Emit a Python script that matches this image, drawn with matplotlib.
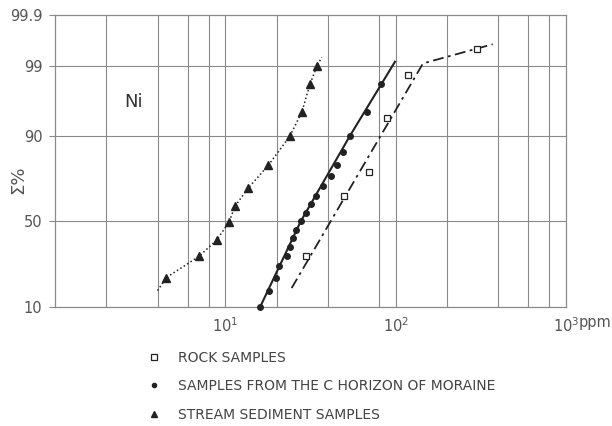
from statistics import NormalDist

import matplotlib
matplotlib.use("Agg")
import matplotlib.pyplot as plt
import numpy as np
from matplotlib.lines import Line2D
from matplotlib.ticker import FixedLocator, FixedFormatter, NullLocator

# Ni cumulative frequency (probability paper), ppm vs cumulative %
stream_ppm = [4.5, 7.0, 8.9, 10.5, 11.4, 13.6, 17.9, 24.0, 28.2, 31.4, 34.5]
stream_pct = [20, 30, 39, 49.5, 59, 69, 80, 90, 95, 98, 99]
stream_line_ppm = [4.0, 4.5, 7.0, 8.9, 10.5, 11.4, 13.6, 17.9, 24.0, 28.2, 31.4, 34.5, 36.8]
stream_line_pct = [15, 20, 30, 39, 49.5, 59, 69, 80, 90, 95, 98, 99, 99.3]

moraine_ppm = [16.0, 18.05, 19.8, 20.75, 22.9, 24.0, 24.9, 25.9, 27.7, 29.65,
               31.7, 33.9, 37.6, 41.6, 45.1, 48.9, 53.9, 67.6, 82.0]
moraine_pct = [10, 15, 20, 25, 30, 35, 40, 45, 50, 55,
               60, 65, 70, 75, 80, 85, 90, 95, 98]
moraine_line_ppm = [16.0, 27.7, 53.9, 99.1]
moraine_line_pct = [10, 50, 90, 99.16]

rock_ppm = [29.8, 49.7, 70.0, 89.3, 117.6, 298.6]
rock_pct = [30.4, 64.7, 76.8, 93.9, 98.6, 99.5]
rock_line_ppm = [24.5, 144.7, 371]
rock_line_pct = [15.9, 99.1, 99.6]

y_ticks = [10, 50, 90, 99, 99.9]
y_tick_labels = ["10", "50", "90", "99", "99.9"]
x_ticks = [10, 100, 1000]
x_tick_labels = ["$10^1$", "$10^2$", "$10^3$"]
x_grid = [2, 4, 6, 8, 10, 20, 40, 80, 100, 200, 400, 600, 800]

nd = NormalDist()
_ppf = np.vectorize(lambda p: nd.inv_cdf(min(max(p / 100.0, 1e-6), 1 - 1e-6)),
                    otypes=[float])
_cdf = np.vectorize(lambda z: nd.cdf(z) * 100.0, otypes=[float])


def probit(p):
    return _ppf(np.asarray(p, dtype=float))


def inv_probit(z):
    return _cdf(np.asarray(z, dtype=float))


ink = "#222222"
grid_c = "#8a8a8a"
label_c = "#555555"

fig = plt.figure(figsize=(6.12, 4.26), dpi=100)
ax = fig.add_axes([55 / 612, 1 - 307 / 426, (566 - 55) / 612, (307 - 15) / 426])
ax.set_xscale("log")
ax.set_yscale("function", functions=(probit, inv_probit))
ax.set_xlim(1, 1000)
ax.set_ylim(10, 99.9)

for v in x_grid:
    ax.axvline(v, color=grid_c, lw=0.8, zorder=1)
for v in y_ticks[1:-1]:
    ax.axhline(v, color=grid_c, lw=0.8, zorder=1)

ax.yaxis.set_major_locator(FixedLocator(y_ticks))
ax.yaxis.set_major_formatter(FixedFormatter(y_tick_labels))
ax.yaxis.set_minor_locator(NullLocator())
ax.xaxis.set_major_locator(FixedLocator(x_ticks))
ax.xaxis.set_major_formatter(FixedFormatter(x_tick_labels))
ax.xaxis.set_minor_locator(NullLocator())
ax.tick_params(axis="y", length=4, width=0.8, color=grid_c, pad=5,
               labelsize=10.5, labelcolor=label_c)
ax.tick_params(axis="x", length=0, pad=7, labelsize=10.5, labelcolor=label_c)
for s in ax.spines.values():
    s.set_color(grid_c)
    s.set_linewidth(0.9)

# stream sediments: dotted curve with triangles
ax.plot(stream_line_ppm, stream_line_pct, ls=":", lw=1.1, color=ink, zorder=3)
ax.plot(stream_ppm, stream_pct, ls="none", marker="^", ms=5.5, color=ink, zorder=4)

# C horizon of moraine: solid line with dots
ax.plot(moraine_line_ppm, moraine_line_pct, ls="-", lw=1.5, color=ink, zorder=3,
        clip_on=False)
ax.plot(moraine_ppm, moraine_pct, ls="none", marker="o", ms=4, color=ink, zorder=4,
        clip_on=False)

# rock samples: dash-dot line with open squares
ax.plot(rock_line_ppm, rock_line_pct, ls=(0, (6, 2.5, 1.5, 2.5)), lw=1.3, color=ink,
        zorder=3)
ax.plot(rock_ppm, rock_pct, ls="none", marker="s", ms=5, mfc="white", mec=ink,
        mew=0.9, color=ink, zorder=4)

ax.text(2.9, 96.3, "Ni", fontsize=13, color="#333333", ha="center", va="center")
fig.text(579 / 612, 1 - 323 / 426, "ppm", fontsize=10.5, color=label_c,
         ha="left", va="center")
fig.text(18 / 612, 1 - 180 / 426, "Σ%", fontsize=13, color=label_c, rotation=90,
         ha="center", va="center")

handles = [
    Line2D([], [], ls="none", marker="s", ms=4, mfc="white", mec=ink, mew=0.9),
    Line2D([], [], ls="none", marker="o", ms=3, color=ink),
    Line2D([], [], ls="none", marker="^", ms=4.5, color=ink),
]
labels = ["ROCK SAMPLES", "SAMPLES FROM THE C HORIZON OF MORAINE",
          "STREAM SEDIMENT SAMPLES"]
leg = fig.legend(handles, labels, loc="upper left",
                 bbox_to_anchor=(135 / 612, 1 - 338 / 426), frameon=False,
                 fontsize=10, handlelength=1.0, handletextpad=1.2,
                 labelspacing=1.05)
for t in leg.get_texts():
    t.set_color("#444444")

fig.savefig("out.png", dpi=100)
